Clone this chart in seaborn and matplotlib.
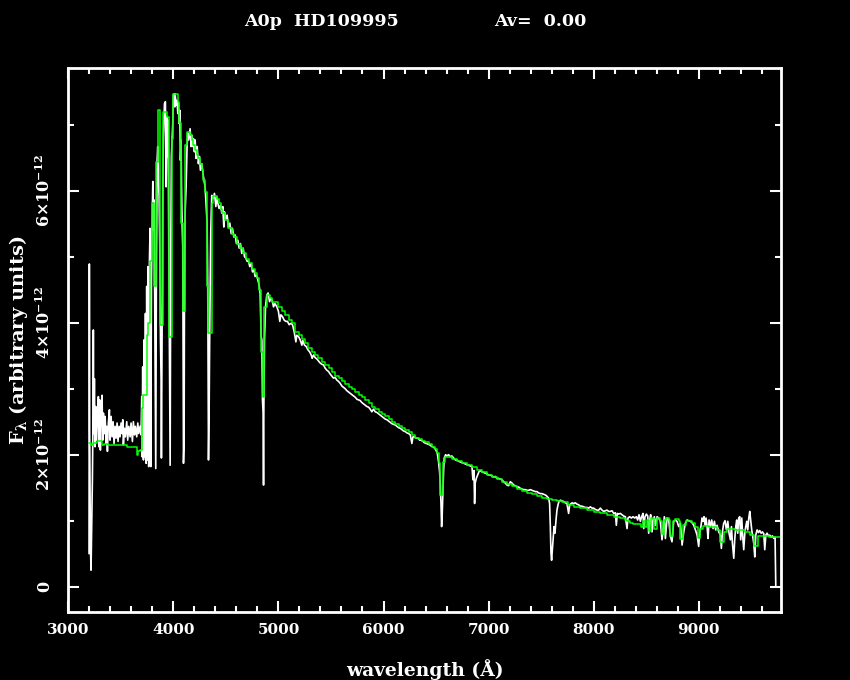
import numpy as np
import pandas as pd
import matplotlib
matplotlib.use("Agg")
import matplotlib.pyplot as plt
from matplotlib.ticker import MultipleLocator, FixedLocator
import seaborn as sns

# ---------------- observed spectrum (white), flux in units of 1e-12 ----------------
obs_wl_uv = [3197, 3200, 3203, 3210, 3216, 3223, 3229, 3235, 3238, 3242, 3248, 3254, 3261, 3267, 3277,
             3286, 3292, 3299, 3305, 3311, 3321, 3327, 3334, 3343, 3350, 3359, 3365, 3372, 3381, 3391,
             3397, 3407, 3416, 3426, 3435, 3445, 3454, 3464, 3473, 3483, 3492, 3502, 3511, 3518, 3524,
             3534, 3543, 3556, 3565, 3575, 3588, 3597, 3610, 3619, 3629, 3638, 3651, 3661, 3670, 3683, 3692]
obs_fx_uv = [0.50, 4.89, 2.37, 0.61, 0.25, 1.01, 1.62, 2.63, 3.89, 2.32, 3.15, 2.12, 2.73, 2.22, 2.53,
             2.88, 2.12, 2.83, 2.07, 2.63, 2.90, 2.22, 2.63, 2.32, 2.58, 2.17, 2.43, 2.05, 2.48, 2.68,
             2.22, 2.58, 2.27, 2.50, 2.17, 2.43, 2.25, 2.48, 2.20, 2.43, 2.27, 2.48, 2.32, 2.53, 2.15,
             2.40, 2.27, 2.50, 2.22, 2.43, 2.27, 2.48, 2.20, 2.50, 2.30, 2.43, 2.27, 2.48, 2.32, 2.43, 2.30]

obs_wl_balmer = [3699, 3702, 3708, 3715, 3721, 3727, 3734, 3740, 3746, 3753, 3759, 3765, 3772, 3778, 3785,
                 3791, 3797, 3804, 3810, 3816, 3823, 3829, 3832, 3838, 3845, 3851, 3858, 3864, 3870, 3877,
                 3883, 3886, 3892, 3899, 3905, 3915, 3924, 3931, 3937, 3943, 3950, 3956, 3962, 3969, 3975,
                 3981, 3988, 3994, 4000, 4007, 4013]
obs_fx_balmer = [2.88, 1.97, 3.33, 1.92, 3.74, 1.97, 4.14, 1.87, 4.55, 1.92, 4.85, 1.82, 4.95, 5.43, 1.82,
                 4.65, 5.45, 6.14, 5.40, 5.86, 4.14, 2.63, 1.79, 4.65, 6.46, 6.67, 6.16, 5.91, 5.15, 3.74,
                 3.13, 1.95, 3.64, 5.86, 6.82, 7.32, 7.35, 6.06, 7.12, 6.52, 7.07, 5.20, 3.74, 1.84, 5.05,
                 6.52, 6.77, 7.02, 7.45, 7.47, 7.27]

obs_wl_blue = [4016, 4026, 4035, 4042, 4048, 4054, 4061, 4067, 4073, 4077, 4083, 4089, 4096, 4102, 4105,
               4111, 4121, 4130, 4137, 4146, 4159, 4169, 4175, 4181, 4191, 4200, 4207, 4216, 4226, 4238,
               4248, 4257, 4270, 4286, 4302, 4311, 4321, 4327, 4334, 4340, 4346, 4356, 4365, 4378, 4391,
               4404, 4413, 4423, 4435, 4448, 4461, 4470, 4480, 4486, 4499, 4511, 4524, 4537, 4550, 4562,
               4575, 4588, 4600, 4613, 4626, 4638, 4651, 4664, 4677, 4689, 4702, 4715, 4727, 4740, 4753,
               4766, 4778, 4791, 4804, 4816, 4826, 4835, 4842, 4848, 4854, 4858, 4861, 4867, 4877, 4889,
               4902, 4915, 4927, 4940, 4953, 4966]
obs_fx_blue = [7.47, 7.30, 7.37, 7.17, 7.32, 7.02, 7.22, 6.46, 6.77, 6.06, 5.51, 5.15, 1.87, 2.22, 4.24,
               5.66, 6.06, 6.67, 6.87, 6.77, 6.94, 6.67, 6.84, 6.67, 6.79, 6.59, 6.77, 6.49, 6.67, 6.41,
               6.52, 6.31, 6.41, 6.21, 6.06, 5.81, 5.51, 4.55, 1.92, 2.63, 3.89, 5.40, 5.93, 5.88, 5.96,
               5.76, 5.91, 5.81, 5.73, 5.78, 5.66, 5.76, 5.45, 5.68, 5.58, 5.63, 5.45, 5.51, 5.35, 5.43,
               5.30, 5.33, 5.20, 5.25, 5.13, 5.20, 5.05, 5.13, 5.00, 4.98, 4.93, 4.93, 4.85, 4.90, 4.77,
               4.80, 4.70, 4.72, 4.65, 4.57, 4.44, 3.79, 3.74, 2.83, 2.63, 1.54, 2.68, 3.74, 4.24, 4.42,
               4.45, 4.32, 4.37, 4.34, 4.24, 4.29]

obs_wl_vis = [4985, 5000, 5013, 5023, 5039, 5054, 5070, 5086, 5102, 5118, 5134, 5150, 5166, 5175, 5191,
              5207, 5223, 5232, 5248, 5264, 5280, 5296, 5312, 5321, 5334, 5350, 5366, 5381, 5397, 5413,
              5429, 5445, 5461, 5477, 5493, 5508, 5524, 5540, 5556, 5572, 5588, 5604, 5620, 5635, 5651,
              5667, 5683, 5699, 5715, 5731, 5747, 5762, 5778, 5794, 5810, 5826, 5842, 5858, 5873, 5889,
              5905, 5921, 5937, 5953, 5969, 5985, 6001, 6016, 6032, 6048, 6064, 6080, 6096, 6112, 6128,
              6143, 6159, 6175, 6191, 6207, 6223, 6239, 6255, 6270, 6280, 6296, 6312, 6328, 6344, 6359,
              6375, 6391, 6407, 6423, 6439, 6455, 6470, 6486, 6499, 6512, 6524, 6534, 6540, 6547, 6553,
              6559, 6566, 6572]
obs_fx_vis = [4.24, 4.17, 4.02, 4.12, 4.09, 4.04, 4.02, 4.02, 3.97, 3.99, 3.97, 3.86, 3.71, 3.81, 3.79,
              3.74, 3.66, 3.73, 3.66, 3.64, 3.59, 3.56, 3.51, 3.46, 3.51, 3.47, 3.45, 3.42, 3.39, 3.37,
              3.36, 3.31, 3.28, 3.26, 3.22, 3.19, 3.16, 3.17, 3.13, 3.11, 3.08, 3.04, 3.02, 3.00, 2.97,
              2.95, 2.93, 2.91, 2.89, 2.87, 2.84, 2.83, 2.82, 2.79, 2.77, 2.75, 2.73, 2.72, 2.69, 2.65,
              2.69, 2.65, 2.64, 2.62, 2.60, 2.58, 2.56, 2.54, 2.53, 2.51, 2.49, 2.47, 2.46, 2.45, 2.43,
              2.41, 2.40, 2.38, 2.36, 2.35, 2.33, 2.32, 2.30, 2.17, 2.27, 2.27, 2.25, 2.25, 2.22, 2.22,
              2.20, 2.18, 2.17, 2.16, 2.15, 2.13, 2.12, 2.10, 2.07, 2.02, 1.89, 1.74, 1.57, 1.26, 0.91,
              1.11, 1.46, 1.77]

obs_wl_red = [6578, 6591, 6604, 6619, 6635, 6651, 6667, 6683, 6699, 6715, 6731, 6746, 6762, 6778, 6794,
              6810, 6826, 6842, 6851, 6861, 6867, 6873, 6883, 6896, 6908, 6921, 6937, 6953, 6969, 6985,
              7000, 7016, 7032, 7048, 7064, 7080, 7096, 7112, 7127, 7143, 7159, 7175, 7191, 7207, 7223,
              7239, 7254, 7270, 7286, 7302, 7318, 7334, 7350, 7366, 7381, 7397, 7413, 7429, 7445, 7461,
              7477, 7492, 7508, 7524, 7540, 7556, 7572, 7581, 7588, 7594, 7600, 7607, 7613, 7623, 7632,
              7642, 7651, 7661, 7670, 7683, 7699, 7715, 7731, 7746, 7762, 7772, 7785, 7797, 7810, 7826,
              7842, 7858, 7873, 7889, 7905, 7921, 7937, 7953, 7969, 7985, 8001, 8016, 8032, 8048, 8064,
              8080, 8096, 8112, 8127, 8143]
obs_fx_red = [1.95, 2.00, 1.98, 2.00, 1.97, 1.98, 1.95, 1.92, 1.92, 1.90, 1.89, 1.88, 1.87, 1.86, 1.85,
              1.84, 1.83, 1.82, 1.62, 1.76, 1.26, 1.57, 1.64, 1.69, 1.74, 1.76, 1.74, 1.73, 1.72, 1.71,
              1.69, 1.69, 1.68, 1.66, 1.67, 1.64, 1.64, 1.63, 1.62, 1.59, 1.57, 1.54, 1.53, 1.59, 1.57,
              1.54, 1.53, 1.51, 1.51, 1.49, 1.48, 1.47, 1.47, 1.46, 1.46, 1.47, 1.46, 1.45, 1.44, 1.44,
              1.42, 1.41, 1.41, 1.40, 1.39, 1.37, 1.34, 1.26, 0.91, 0.51, 0.40, 0.56, 0.71, 0.91, 0.81,
              1.01, 1.16, 1.24, 1.29, 1.31, 1.30, 1.29, 1.27, 1.26, 1.11, 1.24, 1.26, 1.27, 1.26, 1.27,
              1.25, 1.24, 1.22, 1.22, 1.21, 1.20, 1.20, 1.19, 1.21, 1.19, 1.19, 1.17, 1.16, 1.16, 1.19,
              1.16, 1.14, 1.15, 1.16, 1.14]

obs_wl_ir = [8159, 8175, 8191, 8207, 8216, 8226, 8238, 8254, 8270, 8286, 8302, 8318, 8327, 8343, 8359,
             8375, 8391, 8407, 8419, 8432, 8445, 8457, 8470, 8477, 8489, 8502, 8515, 8524, 8534, 8543,
             8556, 8565, 8578, 8588, 8604, 8619, 8635, 8651, 8661, 8673, 8683, 8699, 8715, 8731, 8746,
             8762, 8778, 8794, 8810, 8826, 8842, 8858, 8873, 8889, 8905, 8921, 8937, 8953, 8969, 8985,
             9000, 9010, 9023, 9032, 9042, 9051, 9061, 9070, 9080, 9089, 9099, 9112, 9124, 9137, 9150,
             9162, 9175, 9191, 9207, 9216, 9226, 9238, 9251, 9264, 9277, 9289, 9302, 9312, 9321, 9334,
             9343, 9353, 9362, 9372, 9381, 9391, 9400, 9410, 9419, 9429, 9439, 9448, 9458, 9467, 9477,
             9486, 9496, 9505, 9515, 9524, 9534, 9543, 9556, 9569, 9581, 9594, 9607, 9620, 9629, 9639,
             9651, 9664, 9677, 9689, 9702, 9715, 9727, 9734]
obs_fx_ir = [1.14, 1.15, 1.11, 1.12, 0.93, 1.11, 1.10, 1.11, 1.09, 1.07, 1.06, 0.88, 1.04, 1.06, 1.04,
             1.06, 1.04, 1.06, 1.01, 1.09, 0.99, 1.06, 1.11, 0.88, 1.06, 1.10, 1.07, 0.81, 1.01, 1.09,
             0.83, 1.01, 1.06, 0.93, 1.06, 1.04, 0.99, 0.71, 0.86, 1.06, 0.73, 1.04, 1.01, 0.76, 0.68,
             0.99, 1.01, 0.99, 0.91, 0.96, 0.63, 0.83, 0.96, 1.01, 1.00, 0.99, 0.97, 0.93, 0.86, 0.78,
             0.61, 0.81, 0.93, 1.04, 0.99, 1.06, 0.93, 1.04, 0.91, 0.73, 1.01, 0.91, 1.01, 0.88, 0.99,
             0.86, 0.93, 0.83, 0.78, 0.58, 0.83, 0.96, 1.00, 0.86, 0.99, 0.81, 0.71, 0.91, 0.66, 0.43,
             0.71, 0.91, 1.01, 0.81, 1.04, 1.06, 0.71, 1.04, 0.76, 0.56, 0.81, 0.91, 0.99, 0.86, 1.04,
             1.14, 0.99, 0.86, 0.76, 0.66, 0.45, 0.78, 0.86, 0.82, 0.85, 0.81, 0.83, 0.80, 0.56, 0.78,
             0.81, 0.77, 0.78, 0.75, 0.77, 0.73, 0.75, 0.00]

# ---------------- model spectrum (green, stepped; left bin edges) ----------------
mod_wl_uv = [3200, 3216, 3232, 3270, 3318, 3340, 3381, 3556, 3604, 3651, 3667, 3683, 3699, 3715, 3746,
             3762, 3778, 3800, 3816, 3838, 3858, 3877, 3899, 3937, 3962, 3985, 4000]
mod_fx_uv = [2.17, 2.14, 2.17, 2.20, 2.15, 2.16, 2.14, 2.12, 2.11, 1.99, 2.06, 2.07, 2.70, 2.90, 3.81,
             3.99, 4.93, 5.81, 4.55, 6.43, 7.22, 3.96, 7.19, 7.11, 3.79, 6.79, 7.47]

mod_wl_blue = [4042, 4058, 4077, 4092, 4115, 4130, 4159, 4175, 4191, 4207, 4223, 4238, 4254, 4270, 4286,
               4302, 4318, 4334, 4365, 4381, 4413, 4435, 4451, 4467, 4492, 4524, 4556, 4578, 4604, 4635,
               4667, 4689, 4721, 4747, 4772, 4794, 4816, 4835, 4851, 4867, 4889, 4915, 4943]
mod_fx_blue = [7.35, 7.02, 5.51, 4.18, 6.69, 6.89, 6.84, 6.77, 6.69, 6.62, 6.54, 6.49, 6.41, 6.32, 6.16,
               5.98, 4.55, 3.85, 5.81, 5.92, 5.88, 5.81, 5.73, 5.66, 5.56, 5.43, 5.35, 5.30, 5.20, 5.13,
               5.05, 4.96, 4.90, 4.82, 4.75, 4.67, 4.50, 3.56, 2.88, 4.24, 4.42, 4.37, 4.32]

mod_wl_vis = [5000, 5032, 5064, 5096, 5127, 5153, 5191, 5223, 5254, 5286, 5318, 5350, 5381, 5413, 5445,
              5477, 5508, 5540, 5572, 5604, 5635, 5667, 5699, 5731, 5762, 5794, 5826, 5858, 5889, 5921,
              5953, 5985, 6016, 6048, 6080, 6112, 6143, 6175, 6207, 6239, 6270, 6302, 6334, 6366, 6397,
              6429, 6461, 6493, 6512, 6524, 6540, 6565, 6581]
mod_fx_vis = [4.24, 4.17, 4.12, 4.04, 3.99, 3.86, 3.81, 3.76, 3.69, 3.61, 3.56, 3.51, 3.46, 3.41, 3.36,
              3.31, 3.26, 3.19, 3.16, 3.11, 3.07, 3.03, 2.99, 2.95, 2.90, 2.87, 2.83, 2.78, 2.73, 2.69,
              2.65, 2.61, 2.58, 2.54, 2.50, 2.46, 2.43, 2.40, 2.37, 2.34, 2.30, 2.26, 2.24, 2.21, 2.19,
              2.16, 2.12, 2.09, 2.03, 1.87, 1.39, 1.89, 1.96]

mod_wl_red = [6651, 6699, 6746, 6794, 6842, 6889, 6937, 6985, 7032, 7080, 7127, 7175, 7223, 7270, 7318,
              7366, 7413, 7461, 7508, 7556, 7604, 7651, 7699, 7756, 7810, 7873, 7937, 8001, 8064, 8127,
              8191, 8254]
mod_fx_red = [1.93, 1.90, 1.87, 1.84, 1.81, 1.77, 1.73, 1.69, 1.66, 1.63, 1.59, 1.56, 1.52, 1.48, 1.45,
              1.42, 1.40, 1.37, 1.35, 1.33, 1.31, 1.30, 1.29, 1.24, 1.21, 1.19, 1.16, 1.13, 1.11, 1.08,
              1.06, 1.04]

mod_wl_ir = [8302, 8318, 8350, 8375, 8454, 8470, 8489, 8508, 8531, 8546, 8578, 8604, 8629, 8651, 8667,
             8686, 8715, 8731, 8753, 8772, 8810, 8826, 8851, 8883, 8937, 8969, 8991, 9016, 9042, 9096,
             9143, 9175, 9207, 9238, 9270, 9350, 9445, 9493, 9531, 9562, 9667, 9746, 9800]
mod_fx_ir = [1.01, 0.99, 0.96, 0.95, 0.90, 0.99, 0.90, 1.01, 0.84, 1.04, 0.88, 1.04, 0.99, 0.80, 1.01,
             1.04, 1.01, 0.77, 0.99, 1.02, 1.00, 0.72, 0.93, 0.99, 0.97, 0.91, 0.73, 0.88, 0.92, 0.91,
             0.90, 0.86, 0.67, 0.83, 0.87, 0.86, 0.83, 0.78, 0.61, 0.77, 0.76, 0.75, 0.75]

# ---------------- axes text / ticks ----------------
title_left = "A0p  HD109995"
title_right = "Av=  0.00"
x_label = "wavelength (Å)"
y_label = r"F$_\mathbf{\lambda}$ (arbitrary units)"
x_ticks = [3000, 4000, 5000, 6000, 7000, 8000, 9000]
y_ticks = [0, 2, 4, 6]
y_tick_labels = [r"$\mathbf{0}$", r"$\mathbf{2{\times}10^{-12}}$",
                 r"$\mathbf{4{\times}10^{-12}}$", r"$\mathbf{6{\times}10^{-12}}$"]

obs_wl = obs_wl_uv + obs_wl_balmer + obs_wl_blue + obs_wl_vis + obs_wl_red + obs_wl_ir
obs_fx = obs_fx_uv + obs_fx_balmer + obs_fx_blue + obs_fx_vis + obs_fx_red + obs_fx_ir
mod_wl = mod_wl_uv + mod_wl_blue + mod_wl_vis + mod_wl_red + mod_wl_ir
mod_fx = mod_fx_uv + mod_fx_blue + mod_fx_vis + mod_fx_red + mod_fx_ir
assert len(obs_wl) == len(obs_fx), (len(obs_wl), len(obs_fx))
assert len(mod_wl) == len(mod_fx), (len(mod_wl), len(mod_fx))

obs = pd.DataFrame({"wl": obs_wl, "flux": obs_fx})
mod = pd.DataFrame({"wl": mod_wl, "flux": mod_fx})

sns.set_theme(style="white", rc={
    "axes.facecolor": "black", "figure.facecolor": "black",
    "axes.edgecolor": "white", "axes.labelcolor": "white",
    "text.color": "white", "xtick.color": "white", "ytick.color": "white",
    "axes.linewidth": 2.0,
})
plt.rcParams["font.family"] = ["DejaVu Serif"]
plt.rcParams["font.weight"] = "bold"
plt.rcParams["mathtext.fontset"] = "dejavuserif"

fig = plt.figure(figsize=(8.5, 6.8), dpi=100)
ax = fig.add_axes([0.0804, 0.1004, 0.8386, 0.7996])

sns.lineplot(data=obs, x="wl", y="flux", ax=ax, color="white", lw=1.2,
             estimator=None, sort=False, legend=False)
sns.lineplot(data=mod, x="wl", y="flux", ax=ax, color="#00ff00", lw=1.1,
             estimator=None, sort=False, legend=False, drawstyle="steps-post")

ax.set_xlim(3000, 9785)
ax.set_ylim(-0.38, 7.86)

ax.xaxis.set_major_locator(FixedLocator(x_ticks))
ax.xaxis.set_minor_locator(MultipleLocator(200))
ax.yaxis.set_major_locator(FixedLocator(y_ticks))
ax.yaxis.set_minor_locator(MultipleLocator(1))
ax.set_xticklabels([str(t) for t in x_ticks], fontweight="bold")
ax.set_yticklabels(y_tick_labels, rotation=90, va="center")

ax.tick_params(which="both", direction="in", top=True, right=True, bottom=True, left=True,
               color="white", width=1.5)
ax.tick_params(which="major", length=8)
ax.tick_params(which="minor", length=4)
ax.tick_params(axis="x", which="major", labelsize=11, pad=8)
ax.tick_params(axis="y", which="major", labelsize=11.5, pad=10)

ax.set_xlabel(x_label, fontsize=13.5, fontweight="bold", va="center")
ax.xaxis.set_label_coords(0.5, -0.107)
ax.set_ylabel(y_label, fontsize=14, fontweight="bold", va="center", ha="center")
ax.yaxis.set_label_coords(-0.0705, 0.5)

for s in ax.spines.values():
    s.set_color("white")
    s.set_linewidth(2.0)

fig.text(322 / 850, 1 - 22 / 680, title_left, ha="center", va="center", fontsize=12.5, fontweight="bold")
fig.text(540 / 850, 1 - 22 / 680, title_right, ha="center", va="center", fontsize=12.5, fontweight="bold")

fig.savefig("out.png", dpi=100, facecolor="black")
